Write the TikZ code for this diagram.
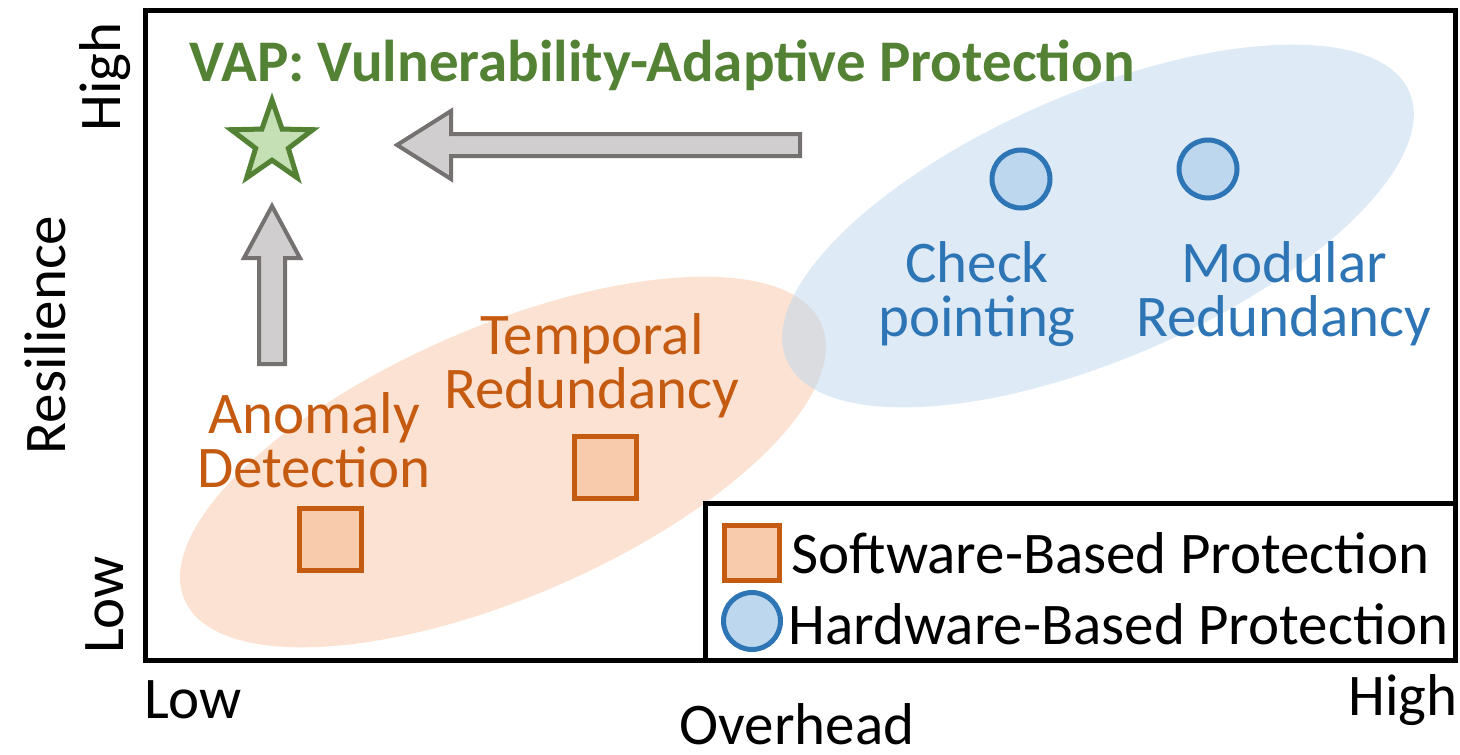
\documentclass[tikz,border=0pt]{standalone}
\usepackage{fontspec}
\setmainfont{Carlito}
\usetikzlibrary{shapes.geometric}
\definecolor{swline}{HTML}{C55A11}
\definecolor{swfill}{HTML}{F8CBAD}
\definecolor{hwline}{HTML}{2E75B6}
\definecolor{hwfill}{HTML}{BDD7EE}
\definecolor{vapline}{HTML}{548235}
\definecolor{vapfill}{HTML}{C5E0B4}
\definecolor{arrline}{HTML}{767171}
\definecolor{arrfill}{HTML}{D0CECE}
\tikzset{
  big/.style={font=\fontsize{59}{62}\selectfont},
  swmark/.style={draw=swline, fill=swfill, line width=5pt, minimum size=62pt, inner sep=0pt},
  hwmark/.style={circle, draw=hwline, fill=hwfill, line width=5pt, minimum size=58pt, inner sep=0pt},
  swtext/.style={big, text=swline, align=center},
  hwtext/.style={big, text=hwline, align=center},
  blockarrow/.style={draw=arrline, fill=arrfill, line width=4pt, line join=miter},
  frame/.style={draw=black, line width=5pt},
}
\begin{document}
\begin{tikzpicture}[x=1pt, y=-1pt]
\useasboundingbox (0,0) rectangle (1460,755);

% clusters
\fill[swfill, opacity=0.55, rotate around={23.4:(503,462)}] (503,462) ellipse [x radius=347, y radius=135];
\fill[hwfill, opacity=0.5, rotate around={23.3:(1098,226)}] (1098,226) ellipse [x radius=339, y radius=133];

% plot frame
\draw[frame] (145,10) rectangle (1455,660);

% title and target
\node[anchor=west, font=\bfseries\fontsize{59}{62}\selectfont, text=vapline] (title) at (186,65) {VAP: Vulnerability-Adaptive Protection};
\node[star, star points=5, star point ratio=2.5, draw=vapline, fill=vapfill, line width=5pt, minimum size=86pt, inner sep=0pt] (vap) at (272,143) {};

% improvement arrows
\draw[blockarrow] (800,134) -- (451,134) -- (451,111) -- (397,145) -- (451,179) -- (451,156) -- (800,156) -- cycle;
\draw[blockarrow] (259,364) -- (259,258) -- (244,258) -- (272,206) -- (300,258) -- (285,258) -- (285,364) -- cycle;

% software techniques
\node[swmark] (ad) at (330,539) {};
\node[swmark] (tr) at (605,467) {};
\node[swtext] (adl) at (314,440) {Anomaly\\[-8pt]Detection};
\node[swtext] (trl) at (592,366) {Temporal\\[-8pt]Redundancy};

% hardware techniques
\node[hwmark] (cp) at (1021,179) {};
\node[hwmark] (mr) at (1208,169) {};
\node[hwtext] (cpl) at (977,294) {Check\\[-8pt]pointing};
\node[hwtext] (mrl) at (1284,294) {Modular\\[-8pt]Redundancy};

% legend
\draw[frame, fill=white] (705,503) rectangle (1455,660);
\node[swmark, minimum size=55pt] (lsw) at (752,553) {};
\node[hwmark, minimum size=57pt] (lhw) at (752,621) {};
\node[big, anchor=west] (lswt) at (788,553) {Software-Based Protection};
\node[big, anchor=west] (lhwt) at (785,624) {Hardware-Based Protection};

% axes
\node[big] (xlo) at (193,700) {Low};
\node[big] (xhi) at (1403,700) {High};
\node[big, anchor=base, inner sep=0pt] (xlab) at (797,744) {Overhead};
\node[big, rotate=90] (ylab) at (45,335) {Resilience};
\node[big, rotate=90] (yhi) at (105,77) {High};
\node[big, rotate=90] (ylo) at (105,605) {Low};
\end{tikzpicture}
\end{document}
